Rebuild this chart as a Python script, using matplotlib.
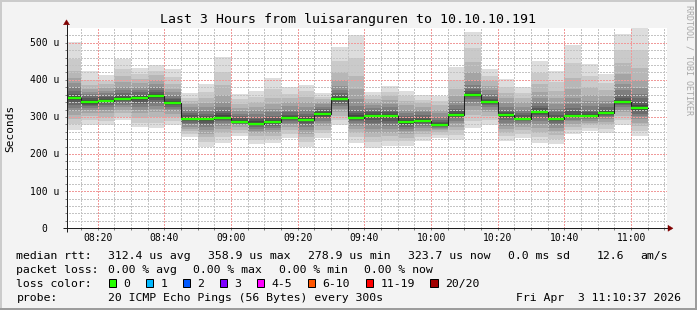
import numpy as np
import matplotlib
matplotlib.use("Agg")
import matplotlib.pyplot as plt
from matplotlib.lines import Line2D
from matplotlib.patches import Rectangle, Polygon
from matplotlib.transforms import offset_copy, IdentityTransform

# ------------------------------------------------------------------ data
title = "Last 3 Hours from luisaranguren to 10.10.10.191"
graph_start = "08:10:37"
graph_end = "11:10:37"
step_minutes = 5
slot_start = ["08:10", "08:15", "08:20", "08:25", "08:30", "08:35", "08:40",
              "08:45", "08:50", "08:55", "09:00", "09:05", "09:10", "09:15",
              "09:20", "09:25", "09:30", "09:35", "09:40", "09:45", "09:50",
              "09:55", "10:00", "10:05", "10:10", "10:15", "10:20", "10:25",
              "10:30", "10:35", "10:40", "10:45", "10:50", "10:55", "11:00"]

# sorted ping RTTs (microseconds), rank 1 (fastest) .. rank 20 (slowest), per 5-min slot
ping01 = [266,279,279,292,273,270,279,245,218,230,248,227,230,243,218,243,279,230,216,222,222,234,243,239,270,279,236,243,230,227,254,261,257,279,250]
ping02 = [282,292,290,300,285,285,290,255,232,245,258,238,240,255,232,256,292,245,232,236,234,245,252,252,288,292,248,255,245,240,264,270,268,292,262]
ping03 = [295,302,300,310,298,300,300,262,245,258,266,248,250,265,245,266,303,258,246,248,244,255,259,264,305,303,258,265,258,252,273,278,278,303,275]
ping04 = [305,310,310,318,310,312,308,268,255,268,272,256,258,273,255,275,313,268,258,258,253,263,264,274,318,312,267,273,270,262,281,285,287,312,285]
ping05 = [315,318,318,326,320,322,315,274,264,276,277,263,265,280,264,283,322,276,268,267,261,270,268,283,330,320,276,279,281,271,288,290,294,320,294]
ping06 = [325,324,326,333,328,330,322,280,272,283,280,268,271,285,272,290,330,283,277,275,268,276,271,290,340,327,284,284,290,279,293,294,299,326,302]
ping07 = [333,329,332,338,335,338,328,285,279,288,282,273,276,289,279,296,336,288,285,283,274,281,273,296,348,332,291,288,298,285,297,297,303,331,309]
ping08 = [340,333,337,342,341,345,332,289,285,292,284,277,280,292,284,300,341,292,292,290,279,285,275,300,353,336,297,291,304,289,299,299,306,335,315]
ping09 = [345,336,340,345,346,350,335,292,289,295,285,279,283,294,288,303,345,295,297,296,282,287,276,302,356,338,301,292,308,292,300,300,308,337,319]
ping10 = [349,338,342,347,349,355,336,293,292,296,285,280,285,295,290,305,347,296,301,301,284,288,276,303,357,338,303,292,311,293,301,301,309,338,321]
ping11 = [353,342,346,351,353,359,340,297,296,300,289,284,289,299,294,309,351,300,305,305,288,292,280,307,361,342,307,296,315,297,305,305,313,342,327]
ping12 = [357,345,349,354,356,362,343,300,299,304,292,288,292,302,297,312,354,304,308,308,291,295,283,310,364,345,310,299,318,300,309,308,316,346,332]
ping13 = [362,350,353,358,360,366,347,304,303,310,296,294,297,306,302,316,358,310,312,312,296,299,287,315,369,349,314,304,323,305,315,313,320,352,340]
ping14 = [370,356,358,364,366,372,352,310,308,318,302,300,303,312,309,321,364,318,318,318,302,305,293,322,376,355,320,310,330,312,324,320,326,360,350]
ping15 = [380,362,364,372,373,380,358,318,316,328,308,308,312,320,318,327,372,330,325,326,310,312,300,331,386,362,328,318,340,322,336,330,334,372,362]
ping16 = [392,368,370,382,382,390,366,326,326,340,316,318,322,330,328,334,384,348,332,335,320,320,310,342,400,372,338,328,352,335,352,343,344,390,378]
ping17 = [405,375,378,395,392,400,376,335,338,358,325,328,335,340,340,341,400,375,340,345,332,328,320,356,420,383,350,340,368,350,375,360,356,415,400]
ping18 = [425,385,388,410,402,412,390,343,352,385,335,340,352,350,355,348,420,410,348,356,344,337,332,375,448,396,365,352,390,370,405,382,372,445,432]
ping19 = [455,400,398,430,415,425,408,352,368,420,347,355,375,362,370,355,450,460,357,368,356,346,344,400,485,410,382,365,418,395,445,410,392,480,480]
ping20 = [502,425,414,455,432,441,430,365,389,461,362,371,405,380,387,365,488,521,368,383,371,358,356,435,530,428,401,381,450,423,495,443,416,524,540]

x_tick_labels = ["08:20", "08:40", "09:00", "09:20", "09:40", "10:00", "10:20", "10:40", "11:00"]
y_tick_values = [0, 100, 200, 300, 400, 500]
y_tick_labels = ["0", "100 u", "200 u", "300 u", "400 u", "500 u"]
y_max = 538.8
y_label = "Seconds"
watermark = "RRDTOOL / TOBI OETIKER"

legend_rtt_head = "median rtt:"
legend_rtt_items = ["312.4 us avg", "358.9 us max", "278.9 us min", "323.7 us now", "0.0 ms sd", "12.6", "am/s"]
legend_loss_head = "packet loss:"
legend_loss_items = ["0.00 % avg", "0.00 % max", "0.00 % min", "0.00 % now"]
legend_color_head = "loss color:"
loss_labels = ["0", "1", "2", "3", "4-5", "6-10", "11-19", "20/20"]
loss_colors = ["#26ff00", "#00b8ff", "#0059ff", "#7e00ff", "#ff00ff", "#ff5500", "#ff0000", "#a10000"]
probe_head = "probe:"
probe_text = "20 ICMP Echo Pings (56 Bytes) every 300s"
timestamp = "Fri Apr  3 11:10:37 2026"

# ------------------------------------------------------------------ layout
W, H = 697, 310
X0, Y0, PW, PH = 66.5, 228.3, 600.0, 200.0   # plot origin (px from left / top), size
MONO = "DejaVu Sans Mono"
BG = "#f3f3f3"

def minutes(s):
    p = [int(v) for v in s.split(":")]
    return p[0] * 60 + p[1] + (p[2] / 60.0 if len(p) > 2 else 0.0)

fig = plt.figure(figsize=(W / 100, H / 100), dpi=100, facecolor=BG)
ax = fig.add_axes([X0 / W, (H - Y0) / H, PW / W, PH / H])
ax.set_facecolor("white")
t0, t1 = minutes(graph_start), minutes(graph_end)
ax.set_xlim(t0, t1)
ax.set_ylim(0, y_max)
for s in ax.spines.values():
    s.set_visible(False)

pings = np.array([ping01, ping02, ping03, ping04, ping05, ping06, ping07, ping08, ping09, ping10,
                  ping11, ping12, ping13, ping14, ping15, ping16, ping17, ping18, ping19, ping20], dtype=float)
n_pings = pings.shape[0]
half = n_pings // 2
starts = np.array([minutes(s) for s in slot_start])
edges = np.append(starts, starts[-1] + step_minutes)

# smoke: layer i spans rank i .. rank (n+1-i); lighter outside, darker inside
for i in range(1, half + 1):
    g = int(190.0 / half * (half - i)) + 50
    col = "#%02x%02x%02x" % (g, g, g)
    lo = np.append(pings[i - 1], pings[i - 1][-1])
    hi = np.append(pings[n_pings - i], pings[n_pings - i][-1])
    ax.fill_between(edges, lo, hi, step="post", color=col, linewidth=0, zorder=1)

# grid (drawn above smoke, as rrdtool does), crisp 1px dots
minor_y = [v for v in range(20, int(y_max) + 1, 20) if v % 100 != 0]
major_y = [v for v in range(100, int(y_max) + 1, 100)]
tick_min = [minutes(s) for s in x_tick_labels]
minor_x = [m for m in np.arange(minutes("08:15"), t1, 5) if all(abs(m - tm) > 0.01 for tm in tick_min)]
dot = (0, (1.4, 1.4))
gkw = dict(linestyles=dot, linewidth=0.72, antialiaseds=False)
ax.hlines(minor_y, t0, t1, colors="#c4c4c4", zorder=2, **gkw)
ax.vlines(minor_x, 0, y_max, colors="#c4c4c4", zorder=2, **gkw)
ax.hlines(major_y, t0, t1, colors="#f09a9a", zorder=2.1, **gkw)
ax.vlines(tick_min, 0, y_max, colors="#f09a9a", zorder=2.1, **gkw)

# median line
med = np.median(pings, axis=0)
ax.step(edges, np.append(med, med[-1]), where="post", color="#202020", linewidth=0.75, zorder=3)
ax.hlines(med, edges[:-1], edges[1:], colors=loss_colors[0], linewidth=1.7, zorder=4)

# tick marks
ax.set_yticks(list(y_tick_values))
ax.set_yticks(minor_y, minor=True)
ax.set_xticks(tick_min)
ax.set_xticks(minor_x, minor=True)
ax.tick_params(which="both", direction="out", length=1.6, width=0.72, color="#808080",
               labelleft=False, labelbottom=False)

# tick labels
ylab_tr = offset_copy(ax.get_yaxis_transform(), fig=fig, x=-7.3, y=-3.4, units="dots")
ylab_tr0 = offset_copy(ax.get_yaxis_transform(), fig=fig, x=-18.8, y=-3.4, units="dots")
for v, lab in zip(y_tick_values, y_tick_labels):
    ax.text(0, v, lab, transform=(ylab_tr0 if v == 0 else ylab_tr), ha="right", va="baseline",
            family=MONO, fontsize=7.0, color="black")
xlab_tr = offset_copy(ax.get_xaxis_transform(), fig=fig, x=0, y=-12.4, units="dots")
for m, lab in zip(tick_min, x_tick_labels):
    ax.text(m, 0, lab, transform=xlab_tr, ha="center", va="baseline",
            family=MONO, fontsize=7.0, color="black")

# ------------------------------------------------------------------ pixel helpers
ID = IdentityTransform()

def pline(xs, ys, color, lw_px=1.0, z=5):
    fig.add_artist(Line2D(list(xs), [H - y for y in ys], transform=ID, color=color,
                          linewidth=lw_px * 0.72, solid_capstyle="butt", zorder=z))

def ptext(x, y, s, **kw):
    kw.setdefault("family", MONO)
    kw.setdefault("color", "black")
    fig.text(x / W, 1 - y / H, s, **kw)

def prect(x, y, w, h, face, edge=None, lw=0.0, z=5):
    fig.add_artist(Rectangle((x, H - y - h), w, h, transform=ID, facecolor=face,
                             edgecolor=edge if edge else face, linewidth=lw, zorder=z))

# axes lines and arrows
AX_COL = "#1e1e1e"
ARROW = "#7f0000"
pline([X0 - 4, X0 + PW + 3], [Y0, Y0], AX_COL, 1.0)
pline([X0, X0], [Y0 + 4, Y0 - PH - 4], AX_COL, 1.0)
fig.add_artist(Polygon([(X0 - 3, H - (Y0 - PH - 3.5)), (X0 + 3, H - (Y0 - PH - 3.5)), (X0, H - (Y0 - PH - 8.5))],
                       closed=True, transform=ID, facecolor=ARROW, edgecolor=ARROW, linewidth=0.3, zorder=6))
fig.add_artist(Polygon([(X0 + PW + 1.5, H - (Y0 - 3)), (X0 + PW + 1.5, H - (Y0 + 3)), (X0 + PW + 6.5, H - Y0)],
                       closed=True, transform=ID, facecolor=ARROW, edgecolor=ARROW, linewidth=0.3, zorder=6))

# frame shading
pline([0, W], [1, 1], "#cbcbcb", 2.0)
pline([1, 1], [0, H], "#cbcbcb", 2.0)
pline([0, W], [H - 1, H - 1], "#9c9c9c", 2.0)
pline([W - 1, W - 1], [0, H], "#9c9c9c", 2.0)

# title, axis label, watermark
ptext(347.5, 23.3, title, ha="center", va="baseline", fontsize=9.5)
ptext(10.5, Y0 - PH / 2, y_label, ha="center", va="center", rotation=90, fontsize=8.0)
ptext(688.5, 5, watermark, ha="center", va="top", rotation=270, fontsize=6.0, color="#a8a8a8")

# legend
LS = 8.25
row_base = [258.7, 272.7, 286.7, 300.7]
ptext(16.4, row_base[0], legend_rtt_head, va="baseline", fontsize=LS)
for x, s in zip([107.6, 207.6, 307.6, 407.6, 507.6, 596.4, 640.0], legend_rtt_items):
    ptext(x, row_base[0], s, va="baseline", fontsize=LS)
ptext(16.4, row_base[1], legend_loss_head, va="baseline", fontsize=LS)
for x, s in zip([107.6, 193.0, 279.0, 364.5], legend_loss_items):
    ptext(x, row_base[1], s, va="baseline", fontsize=LS)
ptext(16.4, row_base[2], legend_color_head, va="baseline", fontsize=LS)
box_x = [108.5, 145.5, 182.5, 219.5, 256.5, 307.5, 365.7, 430.2]
for bx, lab, col in zip(box_x, loss_labels, loss_colors):
    prect(bx, 279.3, 7.3, 7.3, col, edge="black", lw=0.72)
    ptext(bx + 14.8, row_base[2], lab, va="baseline", fontsize=LS)
ptext(16.4, row_base[3], probe_head, va="baseline", fontsize=LS)
ptext(107.6, row_base[3], probe_text, va="baseline", fontsize=LS)
ptext(681.0, row_base[3], timestamp, ha="right", va="baseline", fontsize=LS)

fig.savefig("out.png", dpi=100, facecolor=BG)
